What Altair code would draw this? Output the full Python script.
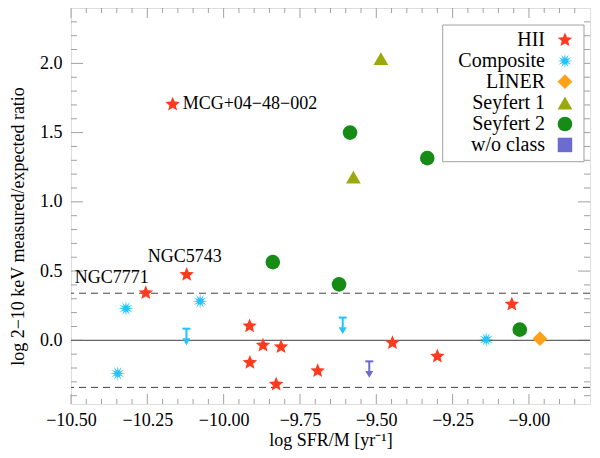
import math
import altair as alt
import pandas as pd

# ---------------- data ----------------
classes = ["HII", "Composite", "LINER", "Seyfert 1", "Seyfert 2", "w/o class"]
class_colors = ["#FF3A1E", "#22C4FF", "#FFA21A", "#9AAA0C", "#168C16", "#6B6BD0"]

hii_x = [-10.167, -10.255, -10.121, -9.915, -9.871, -9.812, -9.914, -9.828, -9.692, -9.447, -9.300, -9.056]
hii_y = [1.704, 0.342, 0.474, 0.103, -0.036, -0.048, -0.161, -0.318, -0.221, -0.019, -0.116, 0.260]
comp_x = [-10.320, -10.347, -10.077, -9.140]
comp_y = [0.229, -0.240, 0.282, 0.005]
liner_x = [-8.964]
liner_y = [0.012]
sy1_x = [-9.485, -9.575]
sy1_y = [2.034, 1.179]
sy2_x = [-9.586, -9.333, -9.839, -9.622, -9.030]
sy2_y = [1.500, 1.316, 0.565, 0.404, 0.077]

# upper limits (arrows)
ul_cls = ["Composite", "Composite", "w/o class"]
ul_x = [-10.122, -9.610, -9.523]
ul_y = [0.084, 0.164, -0.152]

# annotated galaxies
ann_name = ["MCG+04\u221248\u2212002", "NGC5743", "NGC7771"]
ann_x = [-10.167, -10.121, -10.255]
ann_y = [1.704, 0.474, 0.342]

# reference lines
zero_line = [0.0]
dashed_lines = [0.34, -0.34]

# axis ticks
x_major = [-10.5, -10.25, -10.0, -9.75, -9.5, -9.25, -9.0]
x_minor = [-10.45, -10.4, -10.35, -10.3, -10.2, -10.15, -10.1, -10.05,
           -9.95, -9.9, -9.85, -9.8, -9.7, -9.65, -9.6, -9.55,
           -9.45, -9.4, -9.35, -9.3, -9.2, -9.15, -9.1, -9.05,
           -8.95, -8.9, -8.85]
y_major = [0.0, 0.5, 1.0, 1.5, 2.0]
y_minor = [-0.4, -0.3, -0.2, -0.1, 0.1, 0.2, 0.3, 0.4, 0.6, 0.7, 0.8, 0.9,
           1.1, 1.2, 1.3, 1.4, 1.6, 1.7, 1.8, 1.9, 2.1, 2.2, 2.3]

X_DOMAIN = [-10.5, -8.80]
Y_DOMAIN = [-0.46, 2.40]
X_TITLE = "log SFR/M [yr\u207b\u00b9]"
Y_TITLE = "log 2\u221210 keV measured/expected ratio"

W, H = 519, 396
FONT = "Liberation Serif"
FRAME = "#a0a0a0"

# ---------------- symbol shapes ----------------
def star_path(n, r_out, r_in):
    pts = []
    for i in range(2 * n):
        a = -math.pi / 2 + i * math.pi / n
        r = r_out if i % 2 == 0 else r_in
        pts.append(f"{r*math.cos(a):.3f},{r*math.sin(a):.3f}")
    return "M" + "L".join(pts) + "Z"

STAR = star_path(5, 1.0, 0.45)
BURST = star_path(12, 1.0, 0.38)
class_shapes = [STAR, BURST, "diamond", "triangle-up", "circle", "square"]
class_sizes = [230, 210, 190, 170, 190, 110]

# ---------------- tables ----------------
pts = pd.DataFrame({
    "x": hii_x + comp_x + liner_x + sy1_x + sy2_x,
    "y": hii_y + comp_y + liner_y + sy1_y + sy2_y,
    "cls": (["HII"] * len(hii_x) + ["Composite"] * len(comp_x) + ["LINER"] * len(liner_x)
            + ["Seyfert 1"] * len(sy1_x) + ["Seyfert 2"] * len(sy2_x)),
})
ul = pd.DataFrame({"x": ul_x, "y": ul_y, "cls": ul_cls})

xscale = alt.Scale(domain=X_DOMAIN, nice=False, zero=False)
yscale = alt.Scale(domain=Y_DOMAIN, nice=False, zero=False)
xaxis = alt.Axis(values=x_major, format=".2f", ticks=False, tickSize=0, domain=False, grid=False,
                 labelFont=FONT, labelFontSize=18, labelColor="black", labelPadding=7,
                 labelFlush=False, labelOverlap=False,
                 titleFont=FONT, titleFontSize=18, titleFontWeight="normal", titleColor="black",
                 titlePadding=2)
yaxis = alt.Axis(values=y_major, format=".1f", ticks=False, tickSize=0, domain=False, grid=False,
                 labelFont=FONT, labelFontSize=18, labelColor="black", labelPadding=9,
                 labelFlush=False, labelOverlap=False,
                 titleFont=FONT, titleFontSize=18, titleFontWeight="normal", titleColor="black",
                 titlePadding=12, titleY=218)

def X(field="x", **kw):
    return alt.X(field, type="quantitative", scale=xscale, axis=xaxis, title=X_TITLE, **kw)

def Y(field="y", **kw):
    return alt.Y(field, type="quantitative", scale=yscale, axis=yaxis, title=Y_TITLE, **kw)

color_enc = alt.Color("cls:N", scale=alt.Scale(domain=classes, range=class_colors), legend=None)
shape_enc = alt.Shape("cls:N", scale=alt.Scale(domain=classes, range=class_shapes), legend=None)
size_enc = alt.Size("cls:N", scale=alt.Scale(domain=classes, range=class_sizes), legend=None)

layers = []

# ticks (inward, on all four sides)
def xticks(vals, length):
    d = pd.DataFrame({"x": vals})
    bottom = alt.Chart(d).mark_rule(color=FRAME, strokeWidth=1).encode(
        x=X(), y=alt.value(H), y2=alt.value(H - length))
    top = alt.Chart(d).mark_rule(color=FRAME, strokeWidth=1).encode(
        x=X(), y=alt.value(0), y2=alt.value(length))
    return [bottom, top]

def yticks(vals, length):
    d = pd.DataFrame({"y": vals})
    left = alt.Chart(d).mark_rule(color=FRAME, strokeWidth=1).encode(
        y=Y(), x=alt.value(0), x2=alt.value(length))
    right = alt.Chart(d).mark_rule(color=FRAME, strokeWidth=1).encode(
        y=Y(), x=alt.value(W), x2=alt.value(W - length))
    return [left, right]

layers += xticks(x_major, 10) + xticks(x_minor, 5) + yticks(y_major, 12) + yticks(y_minor, 6)

# reference lines
layers.append(alt.Chart(pd.DataFrame({"y": zero_line})).mark_rule(color="#666666", strokeWidth=1.2)
              .encode(y=Y()))
layers.append(alt.Chart(pd.DataFrame({"y": dashed_lines})).mark_rule(
    color="#444444", strokeWidth=1, strokeDash=[7, 5]).encode(y=Y()))

# upper limits: cap, stem, arrow head
layers.append(alt.Chart(ul).mark_rule(strokeWidth=2, xOffset=-4, x2Offset=4).encode(
    x=X(), x2=alt.X2("x"), y=Y(), color=color_enc))
layers.append(alt.Chart(ul).mark_rule(strokeWidth=2, y2Offset=10).encode(
    x=X(), y=Y(), y2=alt.Y2("y"), color=color_enc))
layers.append(alt.Chart(ul).mark_point(shape="triangle-down", size=64, filled=True, opacity=1,
                                       yOffset=13).encode(x=X(), y=Y(), color=color_enc))

# data points
layers.append(alt.Chart(pts).mark_point(filled=True, opacity=1, strokeWidth=0).encode(
    x=X(), y=Y(), color=color_enc, shape=shape_enc, size=size_enc))

# annotations
ann_style = [dict(align="left", dx=10, dy=0), dict(align="center", dx=-2, dy=-18),
             dict(align="right", dx=3, dy=-15)]
for name, ax, ay, st in zip(ann_name, ann_x, ann_y, ann_style):
    d = pd.DataFrame({"x": [ax], "y": [ay], "t": [name]})
    layers.append(alt.Chart(d).mark_text(font=FONT, fontSize=18, color="black",
                                         baseline="middle", **st)
                  .encode(x=X(), y=Y(), text="t:N"))

# legend (box, labels, symbols) placed in data coordinates
LEG_BOX = pd.DataFrame({"x1": [-9.2825], "x2": [-8.8197], "y1": [1.290], "y2": [2.277]})
leg_rows = [2.169, 2.017, 1.868, 1.714, 1.562, 1.411]
leg = pd.DataFrame({"cls": classes, "y": leg_rows,
                    "tx": [-8.9474] * 6, "sx": [-8.882] * 6})
layers.append(alt.Chart(LEG_BOX).mark_rect(fill="white", stroke=FRAME, strokeWidth=1).encode(
    x=X("x1"), x2=alt.X2("x2"), y=Y("y1"), y2=alt.Y2("y2")))
layers.append(alt.Chart(leg).mark_text(font=FONT, fontSize=20, color="black", align="right",
                                       baseline="middle").encode(x=X("tx"), y=Y(), text="cls:N"))
layers.append(alt.Chart(leg).mark_point(filled=True, opacity=1, strokeWidth=0).encode(
    x=X("sx"), y=Y(), color=color_enc, shape=shape_enc, size=size_enc))

chart = alt.layer(*layers).properties(
    width=W, height=H,
    autosize=alt.AutoSizeParams(type="none"),
    padding={"left": 63, "top": 0, "right": 2, "bottom": 46},
).configure_view(stroke=FRAME, strokeWidth=1).configure(background="white")

chart.save("out.html", embed_options={"renderer": "svg", "actions": False})
